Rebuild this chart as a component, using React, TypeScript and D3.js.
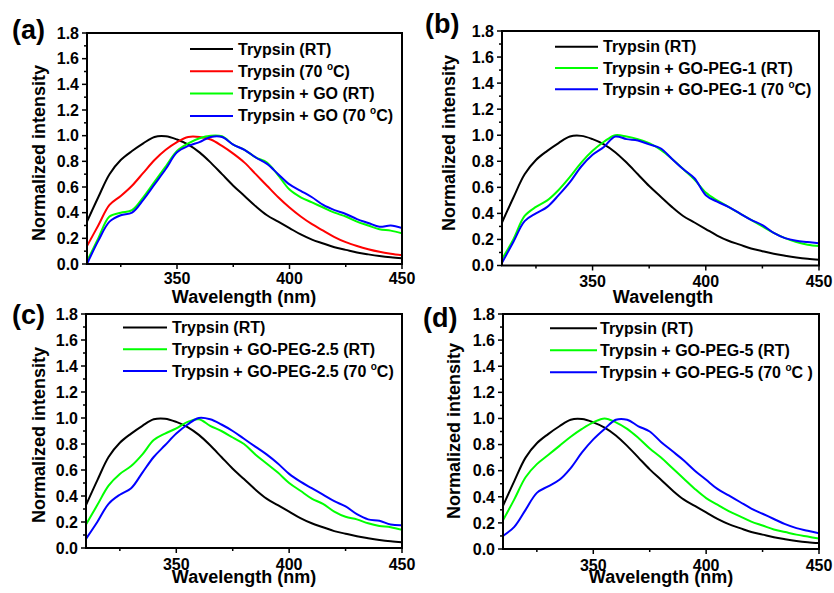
import React from "react";
import * as d3 from "d3";

// wavelength grid (nm) shared by every spectrum
const wavelength = [310, 315, 320, 325, 330, 335, 340, 345, 350, 355, 360, 365, 370, 375, 380, 385, 390, 395, 400, 405, 410, 415, 420, 425, 430, 435, 440, 445, 450];

const trypsinRT = [0.33, 0.52, 0.70, 0.81, 0.88, 0.94, 0.99, 0.995, 0.97, 0.93, 0.87, 0.79, 0.70, 0.61, 0.53, 0.45, 0.38, 0.33, 0.28, 0.23, 0.19, 0.16, 0.13, 0.11, 0.09, 0.075, 0.062, 0.052, 0.045];
const trypsin70 = [0.14, 0.30, 0.46, 0.53, 0.61, 0.71, 0.81, 0.89, 0.95, 0.99, 0.99, 0.97, 0.92, 0.86, 0.79, 0.70, 0.61, 0.52, 0.44, 0.37, 0.31, 0.26, 0.21, 0.17, 0.14, 0.115, 0.095, 0.08, 0.068];
const goRT = [0.02, 0.20, 0.37, 0.40, 0.42, 0.52, 0.64, 0.76, 0.88, 0.94, 0.98, 1.0, 0.995, 0.93, 0.89, 0.83, 0.79, 0.69, 0.58, 0.52, 0.48, 0.44, 0.40, 0.37, 0.33, 0.30, 0.27, 0.26, 0.24];
const go70 = [0.0, 0.18, 0.33, 0.38, 0.40, 0.50, 0.62, 0.74, 0.87, 0.92, 0.95, 0.99, 0.99, 0.93, 0.89, 0.83, 0.78, 0.70, 0.62, 0.57, 0.52, 0.46, 0.42, 0.39, 0.35, 0.32, 0.29, 0.30, 0.28];
const peg1RT = [0.05, 0.20, 0.38, 0.45, 0.50, 0.58, 0.68, 0.79, 0.88, 0.95, 1.0, 0.99, 0.97, 0.94, 0.89, 0.82, 0.74, 0.66, 0.56, 0.50, 0.45, 0.40, 0.35, 0.30, 0.25, 0.21, 0.18, 0.16, 0.15];
const peg1_70 = [0.02, 0.18, 0.34, 0.40, 0.45, 0.54, 0.64, 0.76, 0.85, 0.91, 0.99, 0.97, 0.96, 0.93, 0.90, 0.82, 0.74, 0.67, 0.54, 0.49, 0.45, 0.40, 0.35, 0.31, 0.25, 0.21, 0.19, 0.18, 0.17];
const peg25RT = [0.18, 0.33, 0.48, 0.57, 0.63, 0.72, 0.83, 0.88, 0.92, 0.97, 0.99, 0.94, 0.90, 0.85, 0.80, 0.72, 0.65, 0.58, 0.50, 0.44, 0.38, 0.34, 0.28, 0.24, 0.22, 0.19, 0.17, 0.16, 0.14];
const peg25_70 = [0.07, 0.20, 0.34, 0.41, 0.46, 0.58, 0.70, 0.79, 0.88, 0.95, 1.0, 0.99, 0.95, 0.90, 0.84, 0.78, 0.72, 0.65, 0.57, 0.51, 0.46, 0.41, 0.36, 0.32, 0.26, 0.22, 0.21, 0.18, 0.175];
const peg5RT = [0.22, 0.38, 0.55, 0.65, 0.72, 0.79, 0.86, 0.92, 0.97, 1.0, 0.97, 0.92, 0.85, 0.77, 0.70, 0.62, 0.54, 0.46, 0.39, 0.34, 0.29, 0.25, 0.21, 0.18, 0.15, 0.13, 0.11, 0.095, 0.08];
const peg5_70 = [0.10, 0.17, 0.30, 0.43, 0.48, 0.53, 0.62, 0.74, 0.84, 0.92, 0.99, 0.99, 0.94, 0.90, 0.82, 0.75, 0.68, 0.60, 0.53, 0.46, 0.41, 0.36, 0.31, 0.27, 0.23, 0.19, 0.16, 0.14, 0.12];

const yTicks = [0, 0.2, 0.4, 0.6, 0.8, 1.0, 1.2, 1.4, 1.6, 1.8];
const yMinor = [0.1, 0.3, 0.5, 0.7, 0.9, 1.1, 1.3, 1.5, 1.7];
const xTicks = [350, 400, 450];
const xMinor = [325, 375, 425];

const BLACK = "#000000", RED = "#ff0000", GREEN = "#00ff00", BLUE = "#0000ff";
const FONT = "'Liberation Sans', Arial, sans-serif";

type Series = { label: string; color: string; values: number[] };
type PanelCfg = {
  id: string; tag: string; tagX: number; tagY: number;
  left: number; right: number; top: number; bottom: number; tickGap: number;
  yLabelX: number; yLabelY: number;
  xLabel: string; xLabelX: number; xLabelY: number;
  legX1: number; legX2: number; legText: number; legY0: number; legStep: number;
  series: Series[];
};

const panels: PanelCfg[] = [
  {
    id: "a", tag: "(a)", tagX: 12, tagY: 39,
    left: 87, right: 402, top: 33, bottom: 264, tickGap: 20,
    yLabelX: 45, yLabelY: 153,
    xLabel: "Wavelength (nm)", xLabelX: 244, xLabelY: 303,
    legX1: 190, legX2: 233, legText: 238, legY0: 49, legStep: 22.3,
    series: [
      { label: "Trypsin (RT)", color: BLACK, values: trypsinRT },
      { label: "Trypsin (70 °C)", color: RED, values: trypsin70 },
      { label: "Trypsin + GO (RT)", color: GREEN, values: goRT },
      { label: "Trypsin + GO (70 °C)", color: BLUE, values: go70 },
    ],
  },
  {
    id: "b", tag: "(b)", tagX: 425, tagY: 33,
    left: 502, right: 819, top: 31, bottom: 265.5, tickGap: 21,
    yLabelX: 455, yLabelY: 143,
    xLabel: "Wavelength", xLabelX: 663, xLabelY: 303,
    legX1: 555, legX2: 598, legText: 603, legY0: 46.7, legStep: 21.3,
    series: [
      { label: "Trypsin (RT)", color: BLACK, values: trypsinRT },
      { label: "Trypsin + GO-PEG-1 (RT)", color: GREEN, values: peg1RT },
      { label: "Trypsin + GO-PEG-1 (70 °C)", color: BLUE, values: peg1_70 },
    ],
  },
  {
    id: "c", tag: "(c)", tagX: 12, tagY: 324,
    left: 86, right: 402, top: 314, bottom: 548, tickGap: 21.5,
    yLabelX: 45, yLabelY: 435,
    xLabel: "Wavelength (nm)", xLabelX: 244, xLabelY: 583,
    legX1: 123, legX2: 167, legText: 172, legY0: 327.5, legStep: 21.8,
    series: [
      { label: "Trypsin (RT)", color: BLACK, values: trypsinRT },
      { label: "Trypsin + GO-PEG-2.5 (RT)", color: GREEN, values: peg25RT },
      { label: "Trypsin + GO-PEG-2.5 (70 °C)", color: BLUE, values: peg25_70 },
    ],
  },
  {
    id: "d", tag: "(d)", tagX: 423, tagY: 327,
    left: 503, right: 819, top: 314, bottom: 549, tickGap: 21.5,
    yLabelX: 460, yLabelY: 431,
    xLabel: "Wavelength (nm)", xLabelX: 661, xLabelY: 583,
    legX1: 550, legX2: 597, legText: 600, legY0: 328.3, legStep: 22,
    series: [
      { label: "Trypsin (RT)", color: BLACK, values: trypsinRT },
      { label: "Trypsin + GO-PEG-5 (RT)", color: GREEN, values: peg5RT },
      { label: "Trypsin + GO-PEG-5 (70 °C )", color: BLUE, values: peg5_70 },
    ],
  },
];

// the degree sign is drawn as a raised small "o", as in the original figure
function LegendLabel({ text, x, y }: { text: string; x: number; y: number }) {
  const i = text.indexOf("°");
  if (i < 0) return <text x={x} y={y}>{text}</text>;
  return (
    <text x={x} y={y}>
      {text.slice(0, i)}
      <tspan fontSize={10} dy={-7}>o</tspan>
      <tspan dy={7}>{text.slice(i + 1)}</tspan>
    </text>
  );
}

function Panel({ p }: { p: PanelCfg }) {
  const x = d3.scaleLinear().domain([310, 450]).range([p.left, p.right]);
  const y = d3.scaleLinear().domain([0, 1.8]).range([p.bottom, p.top]);
  const line = d3.line<number>()
    .x((_, i) => x(wavelength[i]))
    .y(v => y(v))
    .curve(d3.curveCatmullRom.alpha(0.5));
  const clipId = "clip-" + p.id;

  return (
    <g fontFamily={FONT} fontWeight="bold" fill="#000">
      <defs>
        <clipPath id={clipId}>
          <rect x={p.left} y={p.top} width={p.right - p.left} height={p.bottom - p.top} />
        </clipPath>
      </defs>

      <g clipPath={`url(#${clipId})`}>
        {p.series.map(s => (
          <path key={s.label} d={line(s.values) || ""} fill="none" stroke={s.color} strokeWidth={2} />
        ))}
      </g>

      <rect x={p.left} y={p.top} width={p.right - p.left} height={p.bottom - p.top}
        fill="none" stroke="#000" strokeWidth={2} />

      {yTicks.map(t => (
        <g key={"y" + t}>
          <line x1={p.left - 5} x2={p.left} y1={y(t)} y2={y(t)} stroke="#000" strokeWidth={1.5} />
          <text x={p.left - 8} y={y(t)} dy="0.36em" textAnchor="end" fontSize={16}>{d3.format(".1f")(t)}</text>
        </g>
      ))}
      {yMinor.map(t => (
        <line key={"ym" + t} x1={p.left - 3} x2={p.left} y1={y(t)} y2={y(t)} stroke="#000" strokeWidth={1.5} />
      ))}
      {xTicks.map(t => (
        <g key={"x" + t}>
          <line x1={x(t)} x2={x(t)} y1={p.bottom} y2={p.bottom + 5} stroke="#000" strokeWidth={1.5} />
          <text x={x(t)} y={p.bottom + p.tickGap} textAnchor="middle" fontSize={16}>{t}</text>
        </g>
      ))}
      {xMinor.map(t => (
        <line key={"xm" + t} x1={x(t)} x2={x(t)} y1={p.bottom} y2={p.bottom + 3} stroke="#000" strokeWidth={1.5} />
      ))}

      <text x={p.xLabelX} y={p.xLabelY} textAnchor="middle" fontSize={18}>{p.xLabel}</text>
      <text transform={`translate(${p.yLabelX},${p.yLabelY}) rotate(-90)`} textAnchor="middle" fontSize={18}>
        Normalized intensity
      </text>
      <text x={p.tagX} y={p.tagY} fontSize={27}>{p.tag}</text>

      <g fontSize={16}>
        {p.series.map((s, i) => {
          const ly = p.legY0 + i * p.legStep;
          return (
            <g key={"leg" + i}>
              <line x1={p.legX1} x2={p.legX2} y1={ly} y2={ly} stroke={s.color} strokeWidth={2} />
              <LegendLabel text={s.label} x={p.legText} y={ly + 5.5} />
            </g>
          );
        })}
      </g>
    </g>
  );
}

export default function App() {
  return (
    <svg width={834} height={593} style={{ position: "absolute", left: 0, top: 0, background: "#fff" }}>
      <rect width={834} height={593} fill="#fff" />
      {panels.map(p => <Panel key={p.id} p={p} />)}
    </svg>
  );
}
